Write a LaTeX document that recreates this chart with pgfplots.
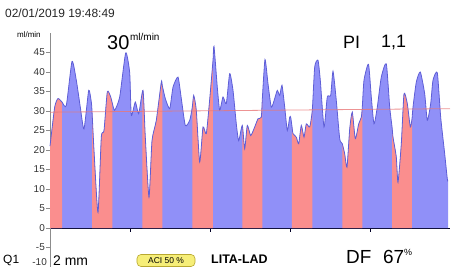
\documentclass[border=0pt]{standalone}
\usepackage{fontspec}
\setmainfont{Liberation Sans}
\usepackage{pgfplots}
\usepgfplotslibrary{fillbetween}
\pgfplotsset{compat=1.18}
\usepackage{pgfplotstable}
\definecolor{bluefill}{HTML}{9090F8}
\definecolor{redfill}{HTML}{FA8E8E}
\definecolor{curveline}{HTML}{5E5ED6}
\definecolor{refline}{HTML}{E87878}
\definecolor{badge}{HTML}{F6EE78}
\definecolor{badgeedge}{HTML}{B8A830}
\pgfplotstableread{
x y
50 21
54.7 31.0
58 33.2
62 32.3
66.3 31.4
72 42.7
76.3 37.9
80.3 31
84 25.4
88.7 35.3
91.3 32.3
92 30
94 19.9
98 4.0
101.3 23.3
104 25
107.3 34.9
110.7 33.6
112.3 32
114.7 30.2
119.7 33.6
125.7 44.9
129.7 39.8
131.3 28.9
135.3 32.3
138.7 29.3
143 35.3
145.3 23.3
149 7.9
152 22.4
156.3 27.6
161.3 37.4
162.3 36.5
165.3 33.2
169.7 30.6
173 36.1
178 38.7
181.3 33.2
185.3 26.3
189.7 27.6
192.3 31
193.7 34
196.3 30.2
199.7 16.9
203 25.9
206.3 24.2
209.7 33
213 43
214 46.6
217.3 36.1
219.7 30.2
223 33.6
226.3 31.9
229.7 39.6
233 35.3
236.3 26.7
238.7 22.4
242.3 26.3
244.7 20.3
247.3 26.3
250.7 23.7
254.7 25.9
258 28.0
261.3 28.4
262.3 33
265 43.2
268 37
271.3 31
274.7 33.2
277.3 35.3
279.7 34
282 36.6
284.7 31
287.3 25
289.7 28.4
290.7 28.4
292 26
293 24.2
296.3 23.3
298.7 21.6
301.3 26.3
304 23.3
306.3 26.7
309.7 25.9
312.3 30.2
314.7 41.3
318 43
320.3 37.9
324 25.9
327.3 33.6
330.7 34
333 40.2
336.3 32.7
339.7 22.9
342.3 21.6
344.7 19
347 15.6
349.7 25.4
352.3 29.7
355.3 22.9
358.7 26.7
361.3 28.4
362.3 31
364 37.9
368.5 42
371.3 33.6
374 26.7
377.3 31
381.3 38.7
386.3 42.1
389.7 31
392 26
393 23.3
396.3 18.2
398 11.7
401.3 21.6
404 34.4
407.3 31.9
410.3 25.9
412 28
413 31
416.3 37.4
420.3 40
424.7 34.4
427.3 27.6
430.7 31.9
433 37.9
437.3 39.8
440.7 28.4
444.7 19
447.3 12.6
448 12
}\curve
\begin{document}
\begin{tikzpicture}
\begin{axis}[
  at={(0,0)}, anchor=south west,
  scale only axis, width=400bp, height=234bp,
  xmin=50, xmax=450, ymin=-10, ymax=50,
  axis x line=middle, axis y line=left,
  axis line style={-},
  x axis line style={draw=black!85!blue, line width=0.8pt},
  y axis line style={draw=black!45, line width=0.6pt},
  xtick={130,210,290,370}, xticklabels={},
  ytick={-5,0,...,45},
  tick align=outside,
  major tick length=3.5bp,
  x tick style={draw=black!85!blue, line width=0.6pt},
  y tick style={draw=black!45, line width=0.6pt},
  yticklabel style={font=\fontsize{10}{11}\selectfont, text=black!80, inner sep=1.5pt},
  /pgf/number format/assume math mode=true,
  clip=false,
]
\addplot[name path=curve, draw=none, smooth, tension=0.35] table {\curve};
\addplot[name path=zero, draw=none] coordinates {(50,0) (448,0)};
\addplot[fill=bluefill, draw=none] fill between[of=curve and zero];
\addplot[fill=redfill, draw=none] fill between[of=curve and zero, soft clip={domain=50:62}];
\addplot[fill=redfill, draw=none] fill between[of=curve and zero, soft clip={domain=92:112.3}];
\addplot[fill=redfill, draw=none] fill between[of=curve and zero, soft clip={domain=142.5:162.3}];
\addplot[fill=redfill, draw=none] fill between[of=curve and zero, soft clip={domain=192.3:213}];
\addplot[fill=redfill, draw=none] fill between[of=curve and zero, soft clip={domain=242.3:262.3}];
\addplot[fill=redfill, draw=none] fill between[of=curve and zero, soft clip={domain=292:312.3}];
\addplot[fill=redfill, draw=none] fill between[of=curve and zero, soft clip={domain=342.3:362.3}];
\addplot[fill=redfill, draw=none] fill between[of=curve and zero, soft clip={domain=392:412}];
\addplot[curveline, line width=0.8pt, no marks, smooth, tension=0.35] table {\curve};
\addplot[refline, line width=0.8pt, opacity=0.8, no marks] coordinates {(50,29.7) (450,30.6)};
\end{axis}
\begin{scope}[x=1bp, y=1bp]
\node[anchor=west, inner sep=0, font=\fontsize{12}{13}\selectfont, text=black!85] at (-45,254) {02/01/2019 19:48:49};
\node[anchor=west, inner sep=0, font=\fontsize{8}{9}\selectfont] at (-33,232) {ml/min};
\node[anchor=west, inner sep=0, font=\fontsize{20}{22}\selectfont] at (57,224.5) {30};
\node[anchor=west, inner sep=0, font=\fontsize{10}{11}\selectfont] at (80,230.5) {ml/min};
\node[anchor=west, inner sep=0, font=\fontsize{18}{20}\selectfont] at (293,225) {PI};
\node[anchor=west, inner sep=0, font=\fontsize{18}{20}\selectfont] at (331,225) {1,1};
\node[anchor=west, inner sep=0, font=\fontsize{12}{13}\selectfont] at (-47,6.5) {Q1};
\node[anchor=east, inner sep=0, font=\fontsize{10}{11}\selectfont, text=black!80] at (-3,5) {-10};
\node[anchor=west, inner sep=0, font=\fontsize{14}{15}\selectfont] at (3,6.5) {2 mm};
\node[draw=badgeedge, fill=badge, rounded corners=4bp, minimum width=58bp, minimum height=12bp, inner sep=0, font=\fontsize{8.5}{9}\selectfont, line width=0.6pt] at (116,6.5) {ACI 50 \%};
\node[anchor=west, inner sep=0, font=\bfseries\fontsize{12.5}{13}\selectfont] at (161,8) {LITA-LAD};
\node[anchor=west, inner sep=0, font=\fontsize{19}{20}\selectfont] at (296,10) {DF};
\node[anchor=west, inner sep=0, font=\fontsize{19}{20}\selectfont] at (333,10) {67};
\node[anchor=west, inner sep=0, font=\fontsize{9}{10}\selectfont] at (354,15) {\%};
\end{scope}
\pgfresetboundingbox
\path[use as bounding box] (-50bp,0bp) rectangle (402bp,267bp);
\end{tikzpicture}
\end{document}
